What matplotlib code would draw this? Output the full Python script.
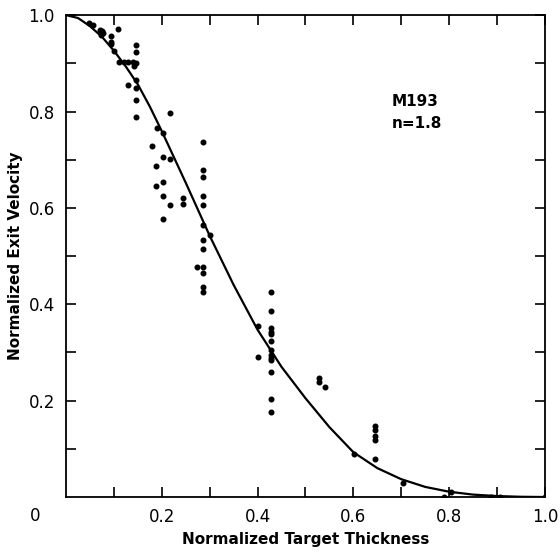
import matplotlib
matplotlib.use('Agg')
import matplotlib.pyplot as plt
import numpy as np

# measured points (normalized thickness, normalized exit velocity)
thick = [0.047, 0.057, 0.07, 0.072, 0.075, 0.077, 0.073, 0.094, 0.094, 0.094,
         0.108, 0.10, 0.11, 0.12, 0.13, 0.14, 0.145, 0.142,
         0.146, 0.146, 0.146, 0.146, 0.146, 0.146, 0.129,
         0.189, 0.202, 0.179, 0.188, 0.202, 0.216, 0.216,
         0.287, 0.287, 0.287, 0.202, 0.188, 0.202, 0.216, 0.202,
         0.245, 0.245, 0.287, 0.287, 0.287, 0.301, 0.287, 0.287,
         0.273, 0.287, 0.287, 0.287, 0.287,
         0.429, 0.429, 0.401, 0.429, 0.429, 0.429, 0.429, 0.429,
         0.429, 0.429, 0.429, 0.401, 0.429, 0.429, 0.429,
         0.529, 0.529, 0.541, 0.601, 0.645, 0.645, 0.645, 0.645, 0.645,
         0.704, 0.803, 0.79, 0.887, 0.906, 1.0]
velocity = [0.984, 0.979, 0.97, 0.965, 0.968, 0.962, 0.958, 0.956, 0.944, 0.94,
            0.972, 0.926, 0.902, 0.902, 0.902, 0.902, 0.9, 0.895,
            0.938, 0.924, 0.865, 0.849, 0.824, 0.788, 0.855,
            0.766, 0.756, 0.728, 0.687, 0.706, 0.701, 0.796,
            0.736, 0.679, 0.665, 0.654, 0.645, 0.625, 0.607, 0.577,
            0.621, 0.608, 0.625, 0.607, 0.565, 0.544, 0.533, 0.515,
            0.477, 0.477, 0.464, 0.436, 0.425,
            0.426, 0.387, 0.355, 0.350, 0.342, 0.339, 0.323, 0.306,
            0.295, 0.288, 0.284, 0.291, 0.259, 0.203, 0.177,
            0.248, 0.239, 0.228, 0.089, 0.147, 0.140, 0.127, 0.118, 0.078,
            0.030, 0.010, 0.0, 0.0, 0.0, 0.0]

# fitted curve
curve_x = [0, 0.025, 0.05, 0.075, 0.1, 0.125, 0.15, 0.175, 0.2, 0.25, 0.3,
           0.35, 0.4, 0.45, 0.5, 0.55, 0.6, 0.65, 0.7, 0.75, 0.8, 0.85,
           0.9, 0.95, 1.0]
curve_y = [1.0, 0.994, 0.977, 0.955, 0.926, 0.893, 0.856, 0.81, 0.759, 0.652,
           0.542, 0.44, 0.347, 0.27, 0.205, 0.145, 0.093, 0.06, 0.037, 0.021,
           0.011, 0.005, 0.002, 0.0005, 0.0]

ticks = [0.2, 0.4, 0.6, 0.8, 1.0]
tick_labels = ['0.2', '0.4', '0.6', '0.8', '1.0']

fig = plt.figure(figsize=(5.6, 5.52), dpi=100)
ax = fig.add_axes([0.118, 0.0996, 0.855, 0.873])

ax.plot(curve_x, curve_y, color='black', linewidth=1.6)
ax.plot(thick, velocity, 'o', color='black', markersize=3.3)

ax.set_xlim(0, 1.0)
ax.set_ylim(0, 1.0)
ax.set_xticks(ticks)
ax.set_xticklabels(tick_labels, fontsize=12)
ax.set_yticks(ticks)
ax.set_yticklabels(tick_labels, fontsize=12)
ax.set_xticks(np.arange(0.1, 1.0, 0.2), minor=True)
ax.set_yticks(np.arange(0.1, 1.0, 0.2), minor=True)
ax.tick_params(which='both', direction='in', length=7, width=1.2,
               top=True, right=True, pad=8)
for s in ax.spines.values():
    s.set_linewidth(1.3)

ax.text(-0.065, -0.04, '0', fontsize=12, ha='center', va='center',
        transform=ax.transData, clip_on=False)
ax.text(0.68, 0.82, 'M193', fontsize=11, fontweight='bold', va='center')
ax.text(0.68, 0.775, 'n=1.8', fontsize=11, fontweight='bold', va='center')

ax.set_xlabel('Normalized Target Thickness', fontsize=11, fontweight='bold')
ax.set_ylabel('Normalized Exit Velocity', fontsize=11, fontweight='bold')

fig.savefig('out.png', dpi=100)
